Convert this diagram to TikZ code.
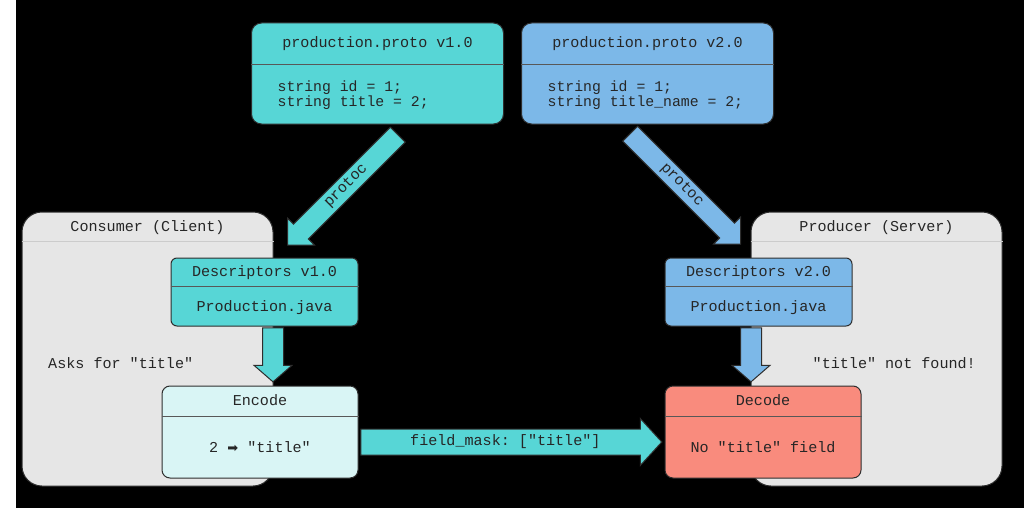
\documentclass[tikz,border=0pt]{standalone}
\usepackage{fontspec}
\setmonofont{Liberation Mono}
\newfontfamily\dejavu{DejaVu Sans}
\usepackage{tikz}
\usetikzlibrary{shapes.arrows}
\definecolor{protocyan}{HTML}{57D6D6}
\definecolor{protoblue}{HTML}{7CB8E8}
\definecolor{sidegray}{HTML}{E6E6E6}
\definecolor{encodefill}{HTML}{D9F5F5}
\definecolor{decodefill}{HTML}{F98B7D}
\definecolor{edge}{HTML}{2E2E2E}
\tikzstyle{box}=[draw=edge, line width=1pt, inner sep=0pt]
\tikzstyle{protobox}=[box, minimum width=252pt, minimum height=101pt,
  rounded corners=10pt]
\tikzstyle{sidebox}=[box, fill=sidegray, minimum width=251pt,
  minimum height=274pt, rounded corners=20pt]
\tikzstyle{descbox}=[box, minimum width=187pt, minimum height=68pt,
  rounded corners=6pt]
\tikzstyle{codebox}=[box, minimum width=196pt, minimum height=92pt,
  rounded corners=8pt]
\tikzstyle{divider}=[draw=edge!80, line width=0.8pt]
\tikzstyle{sidedivider}=[draw=black!20, line width=1pt]
\tikzstyle{plaintext}=[font=\ttfamily\fontsize{15.1}{14}\selectfont,
  text=black!85, inner sep=0pt]
\tikzstyle{boxtext}=[plaintext, text height=9pt, text depth=0pt]
\tikzstyle{codetext}=[plaintext, font=\ttfamily\fontsize{14.8}{14}\selectfont,
  anchor=west, xshift=-100pt, yshift=-1.5pt]
\tikzstyle{leftnote}=[boxtext, anchor=west, xshift=-99.5pt]
\tikzstyle{rightnote}=[boxtext, anchor=east, xshift=99.5pt]
\tikzstyle{blockarrow}=[single arrow, draw=edge, line width=1pt, plaintext,
  inner xsep=0pt, anchor=tip]
\tikzstyle{protocarrow}=[blockarrow, text height=9pt, text depth=3pt,
  inner ysep=4pt, minimum height=156pt, single arrow head extend=8.5pt,
  single arrow tip angle=90]
\tikzstyle{downarrow}=[blockarrow, text height=0pt, text depth=0pt,
  inner ysep=10pt, minimum height=54pt, single arrow head extend=8.5pt,
  single arrow tip angle=98, rotate=-90]
% box with a header line: [divider]{name}{style}{centre}{header}{title}{body style}{body}
\newcommand{\splitbox}[8][divider]{%
  \node (#2) [#3] at #4 {};
  \draw [#1] ([yshift=-#5]#2.north west) -- ([yshift=-#5]#2.north east);
  \path ([yshift=-#5/2]#2.north) node (#2t) [boxtext] {#6};
  \path ([yshift=-#5/2]#2.center) node (#2b) [#7] {#8};}
\newcommand{\codelines}[2]{\begin{tabular}{@{}l@{}}#1\\#2\end{tabular}}

\begin{document}
\begin{tikzpicture}[x=1pt,y=-1pt]

  % Frame
  \useasboundingbox (0,0) rectangle (1024,508);
  \fill [white] (0,0) rectangle (1024,508);
  \fill [black] (16,0) rectangle (1024,508);

  % Client and server
  \splitbox[sidedivider]{cons}{sidebox}{(147.5,349)}{30}{Consumer (Client)}
    {leftnote}{Asks for "title"}
  \splitbox[sidedivider]{prod}{sidebox}{(876.5,349)}{30}{Producer (Server)}
    {rightnote}{"title" not found!}

  % Proto files
  \splitbox{proto1}{protobox, fill=protocyan}{(377.5,73.5)}{42}
    {production.proto v1.0}{codetext}{\codelines{string id = 1;}{string title = 2;}}
  \splitbox{proto2}{protobox, fill=protoblue}{(647.5,73.5)}{42}
    {production.proto v2.0}{codetext}{\codelines{string id = 1;}{string title\_name = 2;}}

  % Generated descriptors
  \splitbox{desc1}{descbox, fill=protocyan}{(264.5,292)}{29}
    {Descriptors v1.0}{boxtext}{Production.java}
  \splitbox{desc2}{descbox, fill=protoblue}{(758.5,292)}{29}
    {Descriptors v2.0}{boxtext}{Production.java}

  % protoc arrows
  \path (desc1.north)+(22.5,-12) node (gen1) [protocarrow, fill=protocyan,
    rotate=45, shape border rotate=180] {protoc};
  \path (desc2.north)+(-17.5,-13) node (gen2) [protocarrow, fill=protoblue,
    rotate=-45] {protoc};

  % Encode / decode
  \splitbox{enc}{codebox, fill=encodefill}{(260,432)}{31}
    {Encode}{boxtext}{2 {\dejavu\fontsize{13}{14}\selectfont ➡} "title"}
  \splitbox{dec}{codebox, fill=decodefill}{(763,432)}{31}
    {Decode}{boxtext}{No "title" field}

  \path (enc.north)+(13,-3) node (use1) [downarrow, fill=protocyan] {};
  \path (dec.north)+(-12,-3) node (use2) [downarrow, fill=protoblue] {};

  % Request
  \path (dec.west)+(-2,10) node (mask) [blockarrow, fill=protocyan,
    text height=9pt, text depth=3pt, inner ysep=6.5pt, minimum height=301pt,
    single arrow head extend=10.5pt, single arrow tip angle=95]
    {field\_mask: ["title"]};
\end{tikzpicture}
\end{document}
